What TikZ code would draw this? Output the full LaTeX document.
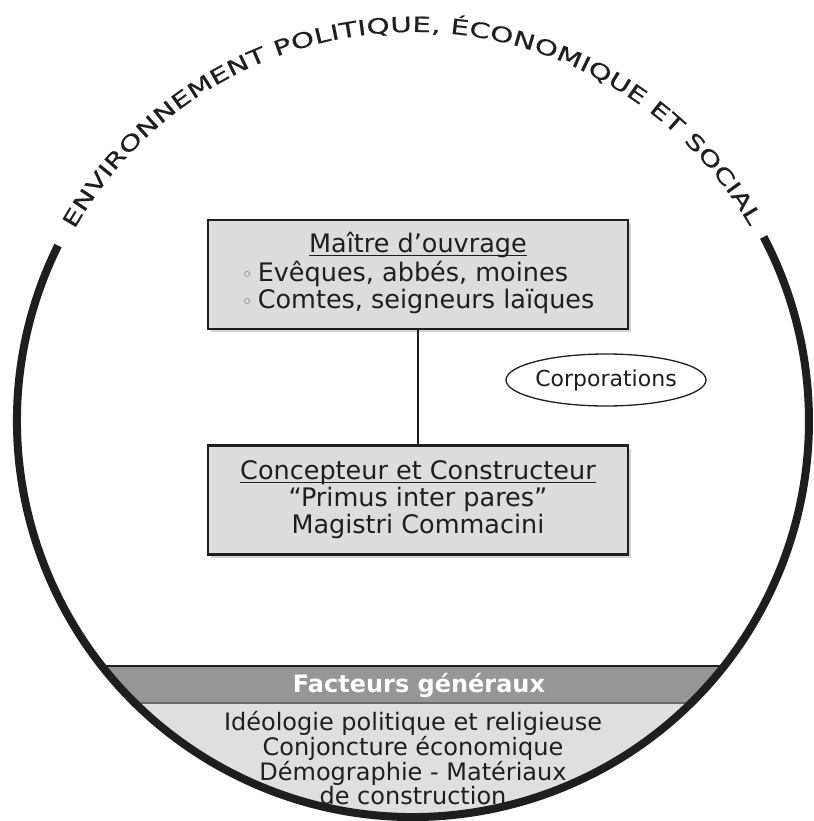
\documentclass[tikz,border=0pt]{standalone}
\usepackage{fontspec}
\setmainfont{DejaVu Sans}
\newfontfamily\arcfont[FakeStretch=1.4, FakeBold=0.5]{DejaVu Sans}
\usetikzlibrary{shapes.geometric,shadows,decorations.text}

\definecolor{ink}{RGB}{30,30,30}
\definecolor{boxfill}{RGB}{221,221,221}
\definecolor{banddark}{RGB}{150,150,150}
\definecolor{bandlight}{RGB}{223,223,223}
\definecolor{sepgray}{RGB}{105,105,105}

% underline set at a fixed depth below the baseline
\newcommand{\souligne}[1]{\setbox0=\hbox{#1}\rlap{\rule[-3.5pt]{\wd0}{1.4pt}}\box0}
\newcommand{\puce}{{\fontsize{19}{19}\selectfont\color{black!60}◦}\hspace{5pt}}

\tikzset{
  panel/.style={draw=ink, line width=2.5, fill=boxfill,
    minimum width=420, minimum height=109, inner sep=0,
    drop shadow={shadow xshift=3pt, shadow yshift=-3pt, opacity=0.35},
    align=center, text=ink, font=\fontsize{25.5}{27}\selectfont},
  link/.style={draw=ink, line width=2.5},
  bubble/.style={ellipse, draw=ink, line width=1.3, fill=white,
    minimum width=182, minimum height=52, inner sep=0,
    text=ink, font=\fontsize{22}{22}\selectfont},
}

\begin{document}
\begin{tikzpicture}[x=1pt, y=1pt]
\useasboundingbox (0,0) rectangle (813,-821);
\coordinate (C) at (413,-421);

% lower segment of the circle: general factors
\begin{scope}
  \clip (C) circle[radius=396];
  \fill[bandlight] (0,-666) rectangle (813,-830);
  \fill[banddark] (0,-666) rectangle (813,-703);
  \draw[sepgray, line width=1.5] (0,-703) -- (813,-703);
  \draw[ink, line width=2.5] (0,-666) -- (813,-666);
\end{scope}

% outer ring, open at the top for its title
\draw[ink, line width=8] (C) ++(153.7:396)
  arc[start angle=153.7, end angle=387.7, radius=396];

% title spread along the top of the ring
\path[decorate, decoration={text effects along path,
  text={ENVIRONNEMENT POLITIQUE, ÉCONOMIQUE ET SOCIAL},
  text effects/.cd, text along path, fit text to path,
  characters={font=\arcfont\fontsize{21}{21}\selectfont, text=ink,
    anchor=base, inner sep=0pt}}]
  (C) ++(150.5:389) arc[start angle=150.5, end angle=30, radius=389];

% actors
\node[panel] (owner) at (418,-274.5) {%
  \begin{tabular}{@{}l@{}}
  \multicolumn{1}{c}{\souligne{Maître d’ouvrage}}\\
  \puce Evêques, abbés, moines\\
  \puce Comtes, seigneurs laïques
  \end{tabular}};

\node[panel] (builder) at (418,-500) {%
  \souligne{Concepteur et Constructeur}\\
  “Primus inter pares”\\
  Magistri Commacini};

\draw[link] (owner.south) -- (builder.north);

\node[bubble] (guilds) at (606,-380) {Corporations};

% general factors
\node[text=white, font=\bfseries\fontsize{24}{24}\selectfont] (factors) at (419,-685) {Facteurs généraux};
\node[align=center, text=ink, font=\fontsize{24}{24}\selectfont] (factorlist) at (413,-758)
  {Idéologie politique et religieuse\\
   Conjoncture économique\\
   Démographie - Matériaux\\
   de construction};
\end{tikzpicture}
\end{document}
